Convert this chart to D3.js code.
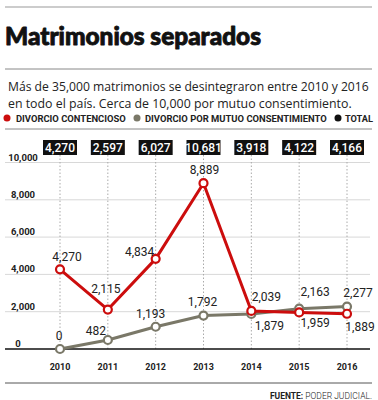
<!DOCTYPE html>
<html><head><meta charset="utf-8">
<script src="https://cdn.jsdelivr.net/npm/d3@7"></script>
<style>body{margin:0;background:#fff}svg{display:block}</style>
</head><body>
<svg id="c" width="378" height="400"></svg>
<script>
const years = ["2010","2011","2012","2013","2014","2015","2016"];
const contencioso = [4270, 2115, 4834, 8889, 2039, 1959, 1889];
const mutuo = [0, 482, 1193, 1792, 1879, 2163, 2277];
const totals = [4270, 2597, 6027, 10681, 3918, 4122, 4166];
const yTicks = [0, 2000, 4000, 6000, 8000, 10000];
// label placement: [dx, dy] relative to point
const redOff = [[7,-12],[-2,-21],[-16,-7],[1,-13],[15,-14],[16,11],[13,13]];
const grayOff = [[-1,-13],[-12,-9],[-5,-13],[-1,-14],[18,12],[16,-17],[11,-14]];

const RED = "#cc0d0d", GRAY = "#7a7868";
const svg = d3.select("#c");
const fmt = d3.format(",");

const x = d3.scalePoint().domain(years).range([60, 347]);
const y = d3.scaleLinear().domain([0, 10000]).range([349, 162.5]);

function fitText(sel, target, base){
  const w = sel.node().getComputedTextLength();
  sel.attr("font-size", base * target / w);
}

// header rules
svg.append("line").attr("x1",5).attr("x2",372).attr("y1",7).attr("y2",7).attr("stroke","#999").attr("stroke-width",1);
const title = svg.append("text").attr("x",5).attr("y",45).text("Matrimonios separados")
  .attr("font-family","Lato, 'DejaVu Sans'").attr("font-weight",900).attr("font-size",21)
  .attr("fill","#111").attr("stroke","#111").attr("stroke-width",0.9).attr("stroke-linejoin","round");
fitText(title, 256, 21);
svg.append("line").attr("x1",5).attr("x2",372).attr("y1",69).attr("y2",69).attr("stroke","#888").attr("stroke-width",1);

const sub = [["Más de 35,000 matrimonios se desintegraron entre 2010 y 2016",91,361],
             ["en todo el país. Cerca de 10,000 por mutuo consentimiento.",108,344]];
sub.forEach(s => {
  const t = svg.append("text").attr("x",8).attr("y",s[1]).text(s[0])
    .attr("font-family","'Open Sans', sans-serif").attr("font-size",13).attr("fill","#222");
  fitText(t, s[2], 13);
});

// legend
const legend = [["DIVORCIO CONTENCIOSO",RED,7,16,110],["DIVORCIO POR MUTUO CONSENTIMIENTO",GRAY,137,145,182],["TOTAL","#111",338,345,28]];
legend.forEach(l => {
  svg.append("circle").attr("cx",l[2]).attr("cy",118).attr("r",3.5).attr("fill",l[1]);
  const t = svg.append("text").attr("x",l[3]).attr("y",121.5).text(l[0])
    .attr("font-family","Roboto, sans-serif").attr("font-weight",700).attr("font-size",9.5).attr("fill","#222");
  fitText(t, l[4], 9.5);
});
svg.append("line").attr("x1",5).attr("x2",372).attr("y1",129).attr("y2",129).attr("stroke","#888").attr("stroke-width",1);

// gridlines
svg.append("g").selectAll("line").data(yTicks.filter(d=>d>0)).join("line")
  .attr("x1",5).attr("x2",370).attr("y1",d=>y(d)).attr("y2",d=>y(d))
  .attr("stroke","#d8d8d8").attr("stroke-width",1);
// y labels
svg.append("g").selectAll("text").data(yTicks).join("text")
  .attr("x",d=> d===0 ? 18 : 23).attr("y",d=>y(d)-2).attr("text-anchor","middle")
  .text(d=>fmt(d)).attr("font-family","Roboto, sans-serif").attr("font-weight",700)
  .attr("font-size",9.5).attr("fill","#222");

// dotted verticals
svg.append("g").selectAll("line").data(years).join("line")
  .attr("x1",d=>x(d)).attr("x2",d=>x(d)).attr("y1",155).attr("y2",349)
  .attr("stroke","#aaa").attr("stroke-width",1).attr("stroke-dasharray","1.5,2");

// baseline
svg.append("line").attr("x1",5).attr("x2",370).attr("y1",y(0)).attr("y2",y(0)).attr("stroke","#111").attr("stroke-width",1.5);

// total boxes
const tb = svg.append("g").selectAll("g").data(years).join("g");
tb.append("rect").attr("x",d=>x(d)-17).attr("y",140).attr("width",34).attr("height",15).attr("fill","#111");
tb.append("text").attr("x",d=>x(d)).attr("y",152).attr("text-anchor","middle")
  .text((d,i)=>fmt(totals[i])).attr("font-family","Roboto, sans-serif").attr("font-weight",500)
  .attr("font-size",12).attr("fill","#fff");

const line = d3.line().x((d,i)=>x(years[i])).y(d=>y(d));
function series(vals, color, offs){
  svg.append("path").datum(vals).attr("d",line).attr("fill","none").attr("stroke",color).attr("stroke-width",3).attr("stroke-linejoin","round");
  svg.append("g").selectAll("circle").data(vals).join("circle")
    .attr("cx",(d,i)=>x(years[i])).attr("cy",d=>y(d)).attr("r",4)
    .attr("fill","#fff").attr("stroke",color).attr("stroke-width",2.2);
  svg.append("g").selectAll("text").data(vals).join("text")
    .attr("x",(d,i)=>x(years[i])+offs[i][0]).attr("y",(d,i)=>y(d)+offs[i][1]+4)
    .attr("text-anchor","middle").text(d=>fmt(d))
    .attr("font-family","Roboto, sans-serif").attr("font-size",12).attr("fill","#222");
}
series(mutuo, GRAY, grayOff);
series(contencioso, RED, redOff);

// x labels
svg.append("g").selectAll("text").data(years).join("text")
  .attr("x",d=>x(d)).attr("y",370).attr("text-anchor","middle").text(d=>d)
  .attr("font-family","Roboto, sans-serif").attr("font-weight",700).attr("font-size",9).attr("fill","#222");

svg.append("line").attr("x1",5).attr("x2",372).attr("y1",383).attr("y2",383).attr("stroke","#555").attr("stroke-width",1);
const src = svg.append("text").attr("x",372).attr("y",399).attr("text-anchor","end")
  .attr("font-family","Roboto, sans-serif").attr("font-size",8.5).attr("fill","#222");
src.append("tspan").attr("font-weight",700).text("FUENTE:");
src.append("tspan").attr("font-weight",300).text(" PODER JUDICIAL.");
</script>
</body></html>
